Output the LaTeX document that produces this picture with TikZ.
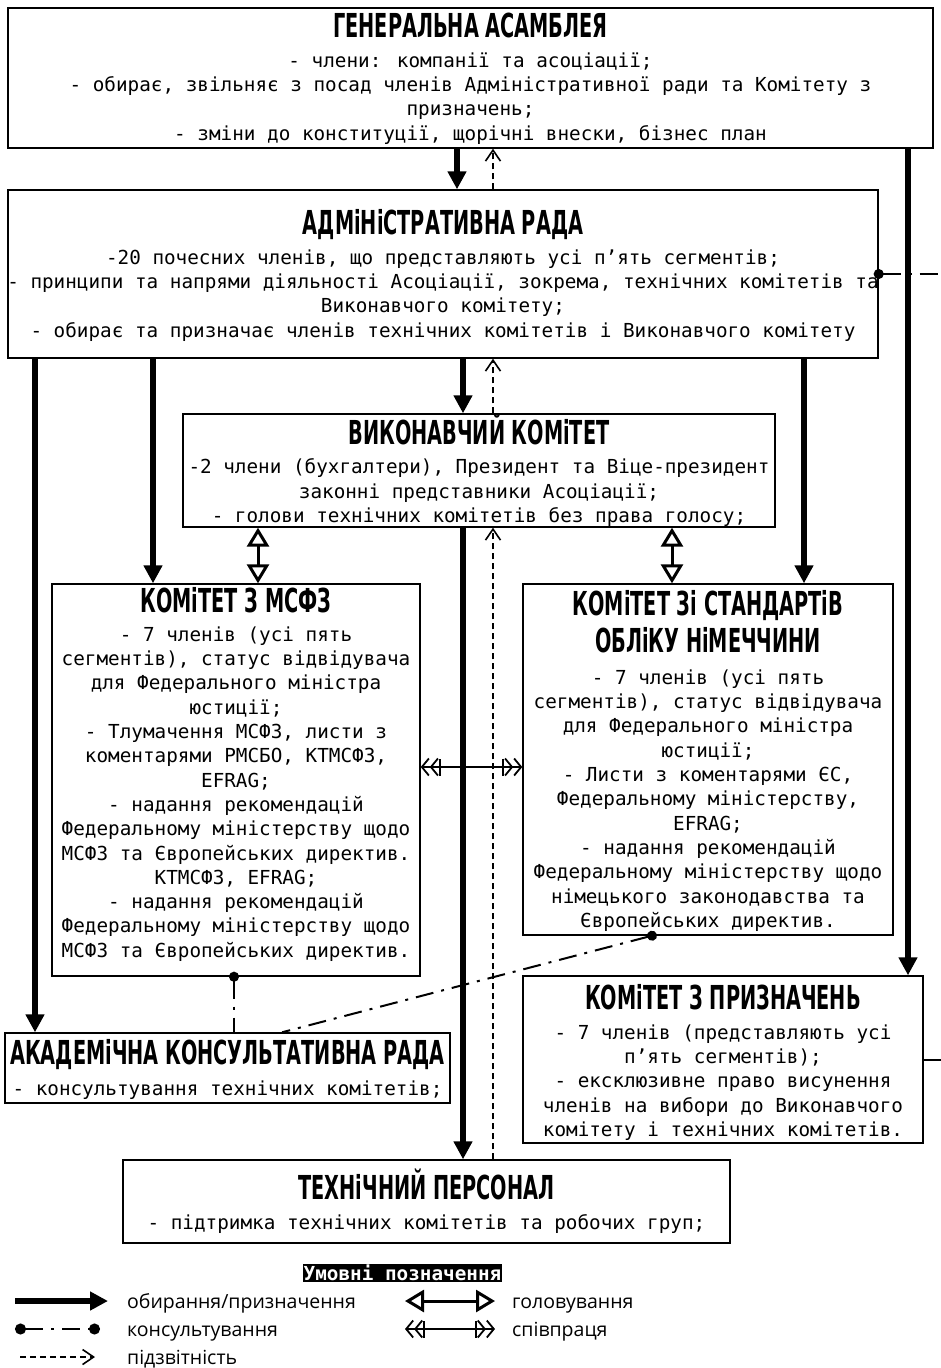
\documentclass[tikz,border=0pt]{standalone}
\usepackage{fontspec}
\setmainfont{DejaVu Sans Mono}
\newfontfamily\titlefont[FakeStretch=0.585]{DejaVu Sans}
\newfontfamily\legendfont{Open Sans}
\usetikzlibrary{arrows.meta,calc,positioning}

\begin{document}
\begin{tikzpicture}[x=1pt,y=-1pt]
  \tikzset{
    box/.style={draw,line width=1.4pt,inner sep=0pt},
    ttl/.style={font=\titlefont\bfseries\fontsize{33}{37}\selectfont,inner sep=0pt,align=center},
    body/.style={font=\fontsize{19.3}{24.3}\selectfont,inner sep=0pt,align=center,anchor=north},
    elect/.style={line width=5.5pt,-{Triangle[length=18pt,width=18pt]}},
    report/.style={line width=1.3pt,dash pattern=on 6pt off 4pt,-{Straight Barb[length=11pt,width=15pt,line width=1.6pt]}},
    chair/.style={line width=3pt,{Triangle[open,length=19pt,width=22pt]}-{Triangle[open,length=19pt,width=22pt]}},
    coop/.style={line width=1.8pt,
      {Straight Barb[length=7pt,width=17pt]Straight Barb[length=7pt,width=17pt]Bar[width=17pt]}-{Bar[width=17pt]Straight Barb[length=7pt,width=17pt]Straight Barb[length=7pt,width=17pt]}},
    consult/.style={line width=2pt,dash pattern=on 18pt off 8pt on 3pt off 8pt},
    dot/.style={{Circle[length=10pt]}-,shorten <=-5pt},
    consultleg/.style={consult,{Circle[length=11pt]}-{Circle[length=11pt]}},
    legtxt/.style={font=\legendfont\fontsize{19.5}{19.5}\selectfont,inner sep=0pt,anchor=base west},
    legtitle/.style={fill=black,text=white,font=\bfseries\fontsize{19.3}{19.3}\selectfont,inner sep=0.6pt}
  }
  \useasboundingbox[fill=white] (0,0) rectangle (941,1368);

  % ---------------- boxes
  \node[box,minimum width=925pt,minimum height=140pt] (ga) at (470.5,78) {};
  \node[box,minimum width=870pt,minimum height=168pt] (adm) at (443,274) {};
  \node[box,minimum width=592pt,minimum height=113pt] (exec) at (479,470.5) {};
  \node[box,minimum width=368pt,minimum height=392pt] (ifrs) at (236,780) {};
  \node[box,minimum width=370pt,minimum height=351pt] (ger) at (708,759.5) {};
  \node[box,minimum width=400pt,minimum height=167pt] (appt) at (723,1059.5) {};
  \node[box,minimum width=445pt,minimum height=70pt] (acad) at (227.5,1068) {};
  \node[box,minimum width=607pt,minimum height=83pt] (staff) at (426.5,1201.5) {};

  % ---------------- titles
  \node[ttl,anchor=base] (gat) at (470.5,37) {ГЕНЕРАЛЬНА АСАМБЛЕЯ};
  \node[ttl,anchor=base] (admt) at (443,234) {АДМіНіСТРАТИВНА РАДА};
  \node[ttl,anchor=base] (exect) at (479,444) {ВИКОНАВЧИЙ КОМіТЕТ};
  \node[ttl,anchor=base] (ifrst) at (236,612) {КОМіТЕТ З МСФЗ};
  \node[ttl,anchor=north] (gert) at (708,590) {КОМіТЕТ Зі СТАНДАРТіВ\\ОБЛіКУ НіМЕЧЧИНИ};
  \node[ttl,anchor=base] (apptt) at (723,1009) {КОМіТЕТ З ПРИЗНАЧЕНЬ};
  \node[ttl,anchor=base] (acadt) at (227.5,1064) {АКАДЕМіЧНА КОНСУЛЬТАТИВНА РАДА};
  \node[ttl,anchor=base] (stafft) at (426.5,1199) {ТЕХНіЧНИЙ ПЕРСОНАЛ};

  % ---------------- texts
  \node[body] (gab) at (470.5,52.5) {- члени: компанії та асоціації;\\
    - обирає, звільняє з посад членів Адміністративної ради та Комітету з\\
    призначень;\\
    - зміни до конституції, щорічні внески, бізнес план};
  \node[body] (admb) at (443,249.5) {-20 почесних членів, що представляють усі п'ять сегментів;\\
    - принципи та напрями діяльності Асоціації, зокрема, технічних комітетів та\\
    Виконавчого комітету;\\
    - обирає та призначає членів технічних комітетів і Виконавчого комітету};
  \node[body] (execb) at (479,458.5) {-2 члени (бухгалтери), Президент та Віце-президент\\
    законні представники Асоціації;\\
    - голови технічних комітетів без права голосу;};
  \node[body] (ifrsb) at (236,626.5) {- 7 членів (усі пять\\
    сегментів), статус відвідувача\\
    для Федерального міністра\\
    юстиції;\\
    - Тлумачення МСФЗ, листи з\\
    коментарями РМСБО, КТМСФЗ,\\
    EFRAG;\\
    - надання рекомендацій\\
    Федеральному міністерству щодо\\
    МСФЗ та Європейських директив.\\
    КТМСФЗ, EFRAG;\\
    - надання рекомендацій\\
    Федеральному міністерству щодо\\
    МСФЗ та Європейських директив.};
  \node[body] (gerb) at (708,669.5) {- 7 членів (усі пять\\
    сегментів), статус відвідувача\\
    для Федерального міністра\\
    юстиції;\\
    - Листи з коментарями ЄС,\\
    Федеральному міністерству,\\
    EFRAG;\\
    - надання рекомендацій\\
    Федеральному міністерству щодо\\
    німецького законодавства та\\
    Європейських директив.};
  \node[body] (apptb) at (723,1024.5) {- 7 членів (представляють усі\\
    п'ять сегментів);\\
    - ексклюзивне право висунення\\
    членів на вибори до Виконавчого\\
    комітету і технічних комітетів.};
  \node[body] (acadb) at (227.5,1080.5) {- консультування технічних комітетів;};
  \node[body] (staffb) at (426.5,1214.5) {- підтримка технічних комітетів та робочих груп;};

  % ---------------- columns of the links
  \coordinate (xa) at (457,0);  \coordinate (xr) at (493,0);
  \coordinate (xe) at (463,0);  \coordinate (xg) at (908,0);
  \coordinate (xl) at (35,0);   \coordinate (xi) at (153,0);
  \coordinate (xd) at (804,0);  \coordinate (xh) at (258,0);
  \coordinate (xj) at (672,0);  \coordinate (xk) at (234,0);
  \coordinate (xm) at (652,0);  \coordinate (xn) at (282,0);
  \coordinate (yc) at (0,767);
  \coordinate (out1) at (952,274); \coordinate (out2) at (952,1059.5);

  % ---------------- appointing
  \draw[elect] (ga.south -| xa) -- (adm.north -| xa);
  \draw[elect] (ga.south -| xg) -- (appt.north -| xg);
  \draw[elect] (adm.south -| xl) -- (acad.north -| xl);
  \draw[elect] (adm.south -| xi) -- (ifrs.north -| xi);
  \draw[elect] (adm.south -| xe) -- (exec.north -| xe);
  \draw[elect] (adm.south -| xd) -- (ger.north -| xd);
  \draw[elect] (exec.south -| xe) -- (staff.north -| xe);
  % ---------------- reporting
  \draw[report] (adm.north -| xr) -- (ga.south -| xr);
  \draw[report] (exec.north -| xr) -- (adm.south -| xr);
  \draw[report] (staff.north -| xr) -- (exec.south -| xr);
  % ---------------- chairing, cooperation
  \draw[chair] (exec.south -| xh) -- (ifrs.north -| xh);
  \draw[chair] (exec.south -| xj) -- (ger.north -| xj);
  \draw[coop] (ifrs.east |- yc) -- (ger.west |- yc);
  % ---------------- consulting
  \draw[consult,dot] (ifrs.south -| xk) -- (acad.north -| xk);
  \draw[consult,dot] (ger.south -| xm) -- (acad.north -| xn);
  \draw[consult,dot] (adm.east) -- (out1);
  \draw[consult] (appt.east) -- (out2);

  % ---------------- legend
  \node[legtitle] (leg) at (402.5,1273) {Умовні позначення};
  \foreach \n/\xa/\xb/\y/\tx/\sty/\lab in {
      e/15/108/1301/127/elect/{обирання/призначення},
      k/15/100/1329/127/consultleg/консультування,
      r/20/95/1357/127/report/підзвітність,
      h/405/495/1301/512/chair/головування,
      c/405/495/1329/512/coop/співпраця} {
    \coordinate (\n1) at (\xa,\y);
    \coordinate (\n2) at (\xb,\y);
    \draw[\sty] (\n1) -- (\n2);
    \node[legtxt] (\n t) at (\tx,\y+7) {\lab};
  }
\end{tikzpicture}
\end{document}
